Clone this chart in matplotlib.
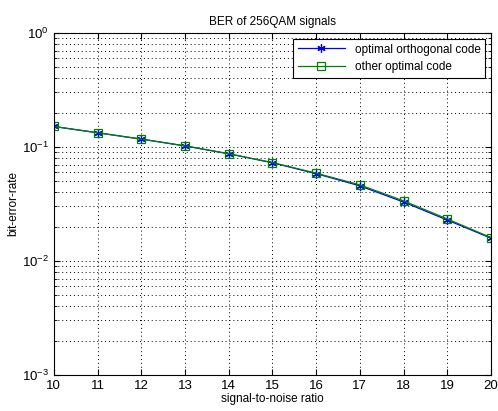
import numpy as np
import matplotlib
matplotlib.use("Agg")
from matplotlib import pyplot as plt
from matplotlib.ticker import LogLocator, NullFormatter

snr = [10, 11, 12, 13, 14, 15, 16, 17, 18, 19, 20]
ber_orth = [0.151, 0.133, 0.117, 0.102, 0.087, 0.0725, 0.0582, 0.0455, 0.0328, 0.0228, 0.0158]
ber_other = [0.151, 0.133, 0.117, 0.102, 0.087, 0.0728, 0.0588, 0.0464, 0.0336, 0.0233, 0.0160]

plt.rcParams['font.family'] = ['Liberation Sans', 'DejaVu Sans']
plt.rcParams['font.size'] = 8.5

fig = plt.figure(figsize=(4.98, 4.11), dpi=100)
ax = fig.add_axes([0.108, 0.088, 0.878, 0.832])

ax.semilogy(snr, ber_orth, color='#0000ff', marker=(6, 2, 0), markersize=6, linewidth=0.9,
            markeredgewidth=0.9, label='optimal orthogonal code')
ax.semilogy(snr, ber_other, color='#008000', marker='s', markersize=5.5, markerfacecolor='none',
            markeredgewidth=0.9, linewidth=0.9, label='other optimal code')

ax.set_xlim(10, 20)
ax.set_ylim(1e-3, 1)
ax.set_xticks(snr)
ax.yaxis.set_major_locator(LogLocator(base=10))
ax.yaxis.set_minor_locator(LogLocator(base=10, subs=np.arange(2, 10)))
ax.yaxis.set_minor_formatter(NullFormatter())

grid_style = dict(linestyle=(0, (1, 3)), color='black', linewidth=0.7)
ax.grid(True, which='major', **grid_style)
ax.grid(True, which='minor', axis='y', **grid_style)
ax.tick_params(which='both', direction='in', top=True, right=True, labelsize=9.5)
ax.tick_params(which='major', length=4)
ax.tick_params(which='minor', length=2)
for s in ax.spines.values():
    s.set_linewidth(0.8)

ax.set_title('BER of 256QAM signals', fontsize=8.5)
ax.set_xlabel('signal-to-noise ratio', fontsize=8.5, labelpad=1)
ax.set_ylabel('bit-error-rate', fontsize=8.5, labelpad=2)

leg = ax.legend(loc='upper right', fancybox=False, framealpha=1, edgecolor='black',
                fontsize=8.5, handlelength=4, borderaxespad=0.5)
leg.get_frame().set_linewidth(0.8)

fig.savefig('out.png', dpi=100)
